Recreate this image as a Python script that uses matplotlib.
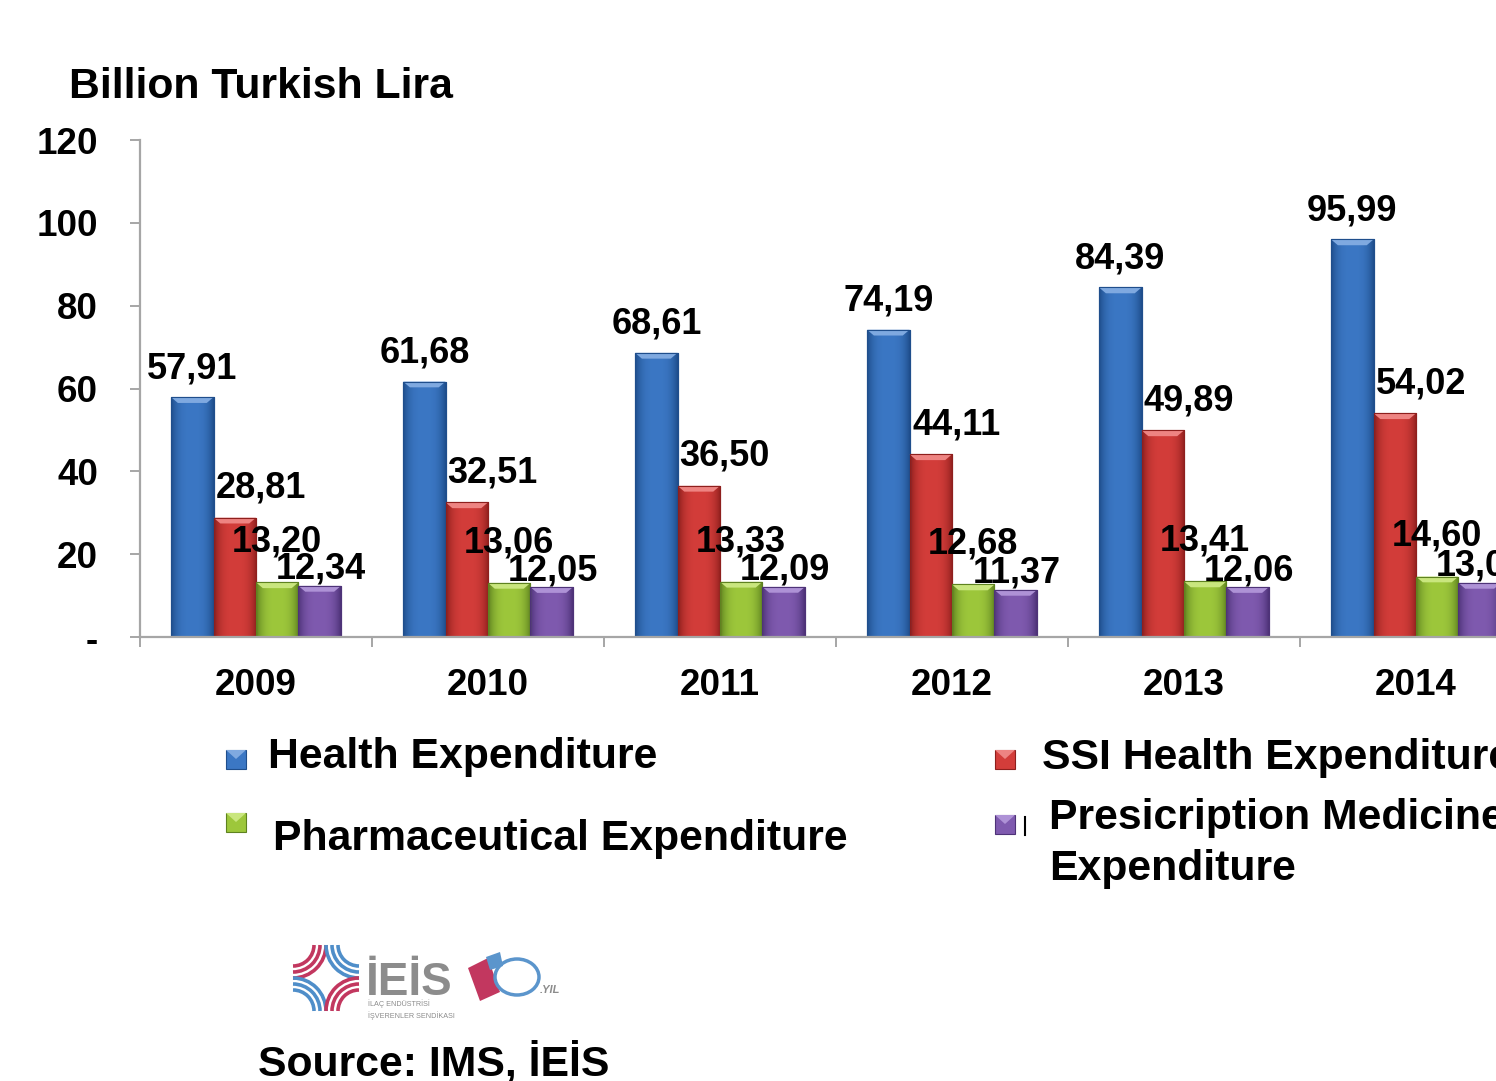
import numpy as np
import matplotlib
matplotlib.use('Agg')
import matplotlib.pyplot as plt
from matplotlib.patches import Rectangle, Arc, Polygon, Ellipse

# ---------------- data ----------------
years = ['2009', '2010', '2011', '2012', '2013', '2014']
health = [57.91, 61.68, 68.61, 74.19, 84.39, 95.99]
ssi = [28.81, 32.51, 36.50, 44.11, 49.89, 54.02]
pharma = [13.20, 13.06, 13.33, 12.68, 13.41, 14.60]
presc = [12.34, 12.05, 12.09, 11.37, 12.06, 13.06]
series_names = ['Health Expenditure', 'SSI Health Expenditure',
                'Pharmaceutical Expenditure', 'Presicription Medicine\nExpenditure']
yticks = [0, 20, 40, 60, 80, 100, 120]
ytick_labels = ['-', '20', '40', '60', '80', '100', '120']
y_title = 'Billion Turkish Lira'
source = 'Source: IMS, İEİS'

colors = ['#3B77C4', '#D33D3A', '#9DC73B', '#7F5AAF']
dark = ['#1F4E8C', '#8E1F1D', '#5E8220', '#4E3378']
light = ['#7FA9E0', '#EE8482', '#C9E67E', '#AE92D6']

FONT = ['Liberation Sans', 'DejaVu Sans']
plt.rcParams['font.family'] = FONT

W, H = 1496, 1081
fig = plt.figure(figsize=(W / 100, H / 100), dpi=100)
fig.patch.set_facecolor('white')

ax = fig.add_axes([140 / W, 444 / H, 1392 / W, 497 / H])
x = np.arange(len(years))
bw = 0.183
all_series = [health, ssi, pharma, presc]
offsets = [-1.5, -0.5, 0.5, 1.5]
# label offsets in points (dx, dy above bar top, baseline)
lab_off = [(0, 13.7), (18.7, 14.4), (0, 22), (1, 5)]

ax.set_xlim(-0.5, 5.5)
ax.set_ylim(0, 120)

# gradient for bevel look
grad_x = np.linspace(-1, 1, 64)
shade = 1 - np.abs(grad_x) ** 3

for si, vals in enumerate(all_series):
    bars = ax.bar(x + offsets[si] * bw, vals, width=bw, color=colors[si],
                  edgecolor=dark[si], linewidth=0.8, zorder=2)
    c0 = np.array(matplotlib.colors.to_rgb(dark[si]))
    c1 = np.array(matplotlib.colors.to_rgb(colors[si]))
    img = (c0[None, :] * (1 - shade[:, None]) + c1[None, :] * shade[:, None])
    img = img[None, :, :]
    for b in bars:
        x0, y0 = b.get_x(), b.get_y()
        w_, h_ = b.get_width(), b.get_height()
        im = ax.imshow(img, extent=(x0, x0 + w_, y0, y0 + h_), aspect='auto',
                       zorder=2.1, interpolation='bicubic')
        im.set_clip_path(b)
        # top bevel
        bev_w = w_ * 0.16
        bev_h = 1.4
        top = Polygon([[x0, y0 + h_], [x0 + w_, y0 + h_],
                       [x0 + w_ - bev_w, y0 + h_ - bev_h], [x0 + bev_w, y0 + h_ - bev_h]],
                      closed=True, facecolor=light[si], edgecolor='none', zorder=2.2)
        ax.add_patch(top)
        ax.add_patch(Rectangle((x0, y0), w_, h_, facecolor='none',
                               edgecolor=dark[si], linewidth=0.8, zorder=2.3))
    for xi, v in zip(x, vals):
        ax.annotate(f'{v:.2f}'.replace('.', ','),
                    xy=(xi + offsets[si] * bw, v),
                    xytext=lab_off[si], textcoords='offset points',
                    ha='center', va='baseline', fontsize=26, fontweight='bold',
                    color='black', zorder=5, annotation_clip=False)

for s in ['top', 'right']:
    ax.spines[s].set_visible(False)
for s in ['left', 'bottom']:
    ax.spines[s].set_color('#A6A6A6')
    ax.spines[s].set_linewidth(1.6)

ax.set_yticks(yticks)
ax.set_yticklabels(ytick_labels, fontsize=26.5, fontweight='bold')
ax.tick_params(axis='y', length=7.2, width=1.4, color='#A6A6A6', pad=23, direction='out')

ax.set_xticks(x)
ax.set_xticklabels(years, fontsize=26.5, fontweight='bold')
ax.set_xticks(np.arange(-0.5, 6.0, 1.0), minor=True)
ax.tick_params(axis='x', which='major', length=0, pad=22)
ax.tick_params(axis='x', which='minor', length=7.2, width=1.4, color='#A6A6A6', direction='out')

# ---------------- overlay (pixel coordinates) ----------------
ov = fig.add_axes([0, 0, 1, 1], zorder=10)
ov.set_xlim(0, W)
ov.set_ylim(H, 0)
ov.axis('off')

BIG = 30.8
ov.text(69, 98, y_title, fontsize=BIG, fontweight='bold', ha='left', va='baseline')

# legend
leg = [
    (226, 750, 0, 268, 768, series_names[0]),
    (995, 750, 1, 1042, 769, series_names[1]),
    (226, 813, 2, 273, 850, series_names[2]),
    (995, 815, 3, 1049, 829, series_names[3]),
]
for mx, my, ci, tx, ty, name in leg:
    ov.add_patch(Rectangle((mx, my), 20, 19, facecolor=colors[ci], edgecolor=dark[ci], lw=0.8))
    ov.add_patch(Polygon([[mx, my], [mx + 20, my], [mx + 10, my + 9]], closed=True,
                         facecolor=light[ci], edgecolor='none'))
    lines = name.split('\n')
    for li, ln in enumerate(lines):
        ov.text(tx, ty + li * 51, ln, fontsize=BIG, fontweight='bold', ha='left', va='baseline')
ov.plot([1025, 1025], [817, 835], color='black', lw=1.5)

# logo symbol
cx0, cy0, cx1, cy1 = 293, 945, 359, 1011
corner_specs = [((cx0, cy0), 0, 90, '#C2375F'), ((cx1, cy0), 90, 180, '#4F8EC9'),
                ((cx0, cy1), 270, 360, '#4F8EC9'), ((cx1, cy1), 180, 270, '#C2375F')]
for (px, py), t1, t2, col in corner_specs:
    for r in (21, 27, 33):
        ov.add_patch(Arc((px, py), 2 * r, 2 * r, theta1=t1, theta2=t2, color=col, lw=2.6))
ov.text(366, 995, 'İEİS', fontsize=33, color='#8C8C8C', fontweight='bold', ha='left', va='baseline')
ov.text(368, 1004, 'İLAÇ ENDÜSTRİSİ', fontsize=5.2, color='#8C8C8C', ha='left', va='center')
ov.text(368, 1016, 'İŞVERENLER SENDİKASI', fontsize=5.2, color='#8C8C8C', ha='left', va='center')
# 50. yil logo
ov.add_patch(Polygon([[468, 968], [488, 958], [500, 992], [480, 1001]], closed=True,
                     facecolor='#C2375F', edgecolor='none'))
ov.add_patch(Polygon([[486, 957], [500, 952], [503, 966], [490, 970]], closed=True,
                     facecolor='#5B95CC', edgecolor='none'))
ov.add_patch(Ellipse((517, 977), 44, 36, facecolor='none', edgecolor='#5B95CC', lw=2.5))
ov.text(540, 993, '.YIL', fontsize=8, color='#8C8C8C', fontweight='bold', style='italic',
        ha='left', va='baseline')

ov.text(258, 1076, source, fontsize=BIG, fontweight='bold', ha='left', va='baseline')

fig.savefig('out.png', dpi=100, facecolor='white')
